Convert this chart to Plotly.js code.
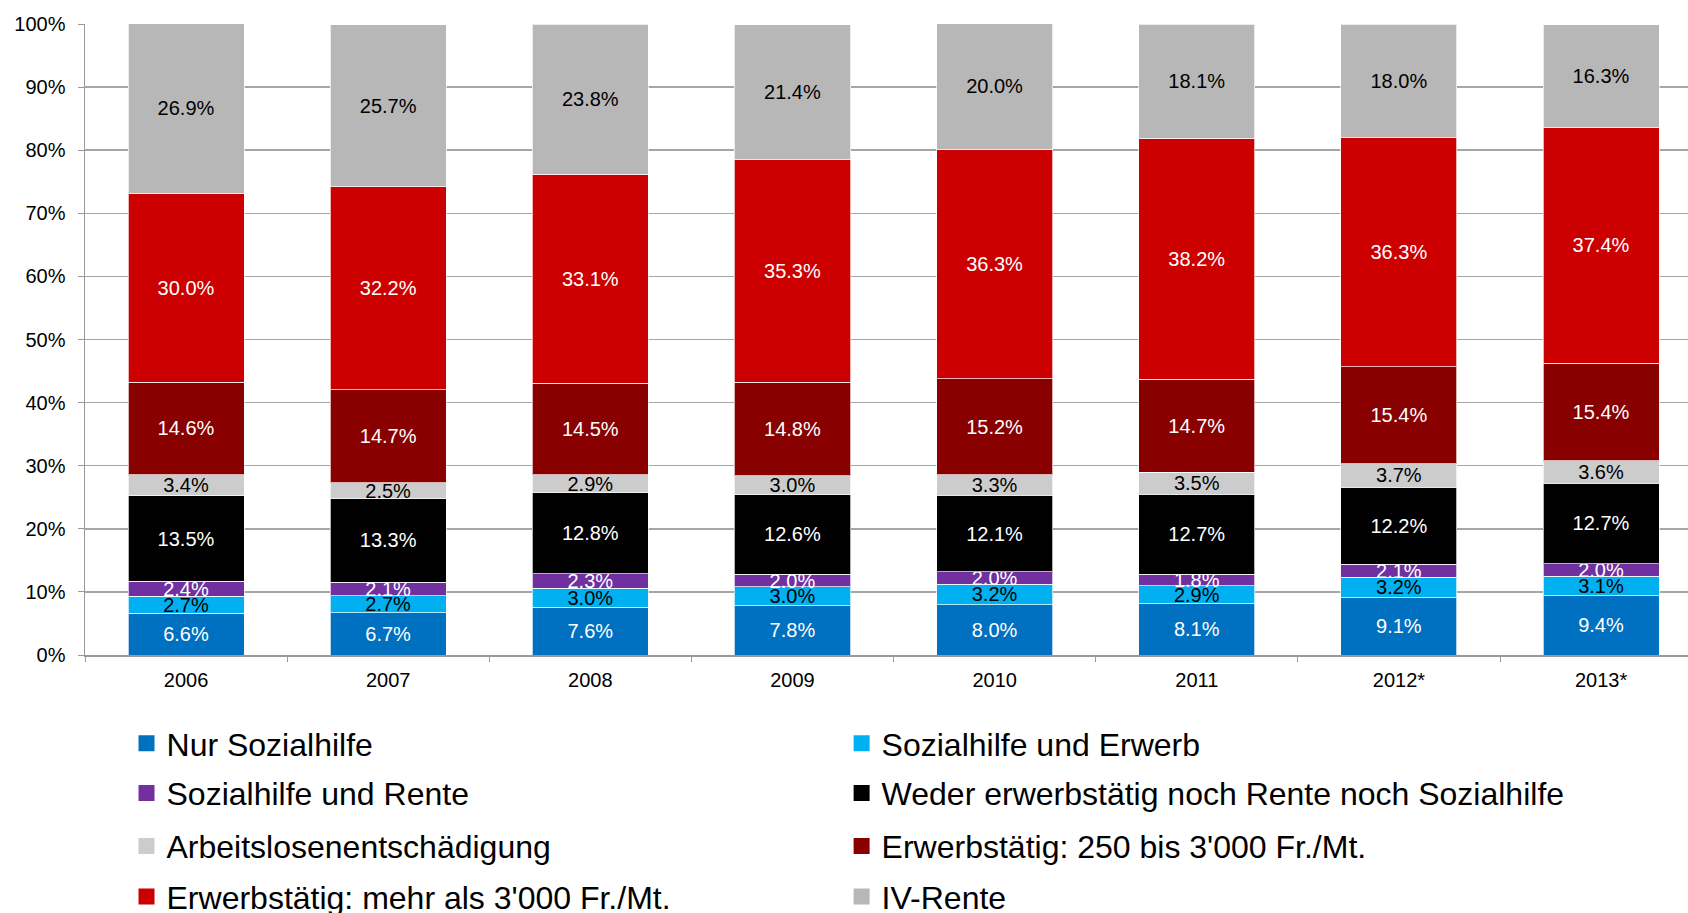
<!DOCTYPE html>
<html>
<head>
<meta charset="utf-8">
<script src="https://cdn.plot.ly/plotly-3.0.1.min.js"></script>
<style>html,body{margin:0;padding:0;background:#fff;}#chart{width:1688px;height:913px;}</style>
</head>
<body>
<div id="chart"></div>
<script>
// ---- data (percent) ----
const years = ['2006', '2007', '2008', '2009', '2010', '2011', '2012*', '2013*'];
const nurSozialhilfe      = [6.6, 6.7, 7.6, 7.8, 8.0, 8.1, 9.1, 9.4];
const sozialhilfeErwerb   = [2.7, 2.7, 3.0, 3.0, 3.2, 2.9, 3.2, 3.1];
const sozialhilfeRente    = [2.4, 2.1, 2.3, 2.0, 2.0, 1.8, 2.1, 2.0];
const wederNoch           = [13.5, 13.3, 12.8, 12.6, 12.1, 12.7, 12.2, 12.7];
const arbeitslosen        = [3.4, 2.5, 2.9, 3.0, 3.3, 3.5, 3.7, 3.6];
const erwerb250bis3000    = [14.6, 14.7, 14.5, 14.8, 15.2, 14.7, 15.4, 15.4];
const erwerbMehr3000      = [30.0, 32.2, 33.1, 35.3, 36.3, 38.2, 36.3, 37.4];
const ivRente             = [26.9, 25.7, 23.8, 21.4, 20.0, 18.1, 18.0, 16.3];

const seriesNames = [
  'Nur Sozialhilfe',
  'Sozialhilfe und Erwerb',
  'Sozialhilfe und Rente',
  'Weder erwerbstätig noch Rente noch Sozialhilfe',
  'Arbeitslosenentschädigung',
  "Erwerbstätig: 250 bis 3'000 Fr./Mt.",
  "Erwerbstätig: mehr als 3'000 Fr./Mt.",
  'IV-Rente'
];
const seriesValues = [nurSozialhilfe, sozialhilfeErwerb, sozialhilfeRente, wederNoch,
  arbeitslosen, erwerb250bis3000, erwerbMehr3000, ivRente];

// ---- styles ----
const colors = ['#0070C0', '#00B0F0', '#7030A0', '#000000', '#CCCCCC', '#880000', '#CC0000', '#B7B7B7'];
const labelColors = ['#ffffff', '#000000', '#ffffff', '#ffffff', '#000000', '#ffffff', '#ffffff', '#000000'];

const FONT = '"Liberation Sans", Arial, sans-serif';

const legendId = i => (i === 0 ? 'legend' : 'legend' + (i + 1));

const barTraces = seriesNames.map((name, i) => ({
  type: 'bar',
  name: name,
  x: years,
  y: seriesValues[i],
  marker: { color: colors[i], line: { color: 'rgba(255,255,255,0.7)', width: 1 } },
  texttemplate: '%{y:.1f}%',
  textposition: 'inside',
  insidetextanchor: 'middle',
  constraintext: 'none',
  textangle: 0,
  textfont: { family: FONT, size: 20, color: labelColors[i] },
  showlegend: false,
  hoverinfo: 'skip'
}));

// legend swatches (square markers, no data points)
const legendTraces = seriesNames.map((name, i) => ({
  type: 'scatter',
  mode: 'markers',
  name: name,
  x: [null],
  y: [null],
  marker: { symbol: 'square', size: 16, color: colors[i] },
  legend: legendId(i),
  showlegend: true,
  hoverinfo: 'skip'
}));

const colX = [0.0259, 0.472];
const rowY = [-0.140, -0.219, -0.303, -0.383];

function legendBox(i) {
  return {
    orientation: 'v',
    x: colX[i % 2], xanchor: 'left',
    y: rowY[Math.floor(i / 2)], yanchor: 'middle',
    font: { family: FONT, size: 32, color: '#000000' },
    bgcolor: 'rgba(0,0,0,0)',
    borderwidth: 0
  };
}

const layout = {
  width: 1688,
  height: 913,
  margin: { l: 85, r: 0, t: 24, b: 258, autoexpand: false },
  paper_bgcolor: '#ffffff',
  plot_bgcolor: '#ffffff',
  barmode: 'stack',
  bargap: 0.426,
  font: { family: FONT, color: '#000000' },
  xaxis: {
    type: 'category',
    range: [-0.5, 7.43],
    tickson: 'boundaries',
    ticks: 'outside',
    ticklen: 5,
    tickcolor: '#999999',
    showline: true,
    linecolor: '#999999',
    linewidth: 1.5,
    showgrid: false,
    tickfont: { family: FONT, size: 20, color: '#000000' },
    ticklabelstandoff: 6,
    fixedrange: true
  },
  yaxis: {
    range: [0, 100],
    dtick: 10,
    ticksuffix: '%',
    ticks: 'outside',
    ticklen: 6,
    tickcolor: '#999999',
    showline: true,
    linecolor: '#999999',
    linewidth: 1.5,
    showgrid: true,
    gridcolor: '#A6A6A6',
    gridwidth: 1.5,
    zeroline: false,
    tickfont: { family: FONT, size: 20, color: '#000000' },
    ticklabelstandoff: 8,
    fixedrange: true
  },
  showlegend: true
};
seriesNames.forEach((_, i) => { layout[legendId(i)] = legendBox(i); });

Plotly.newPlot('chart', barTraces.concat(legendTraces), layout, { displayModeBar: false, staticPlot: true });
</script>
</body>
</html>
